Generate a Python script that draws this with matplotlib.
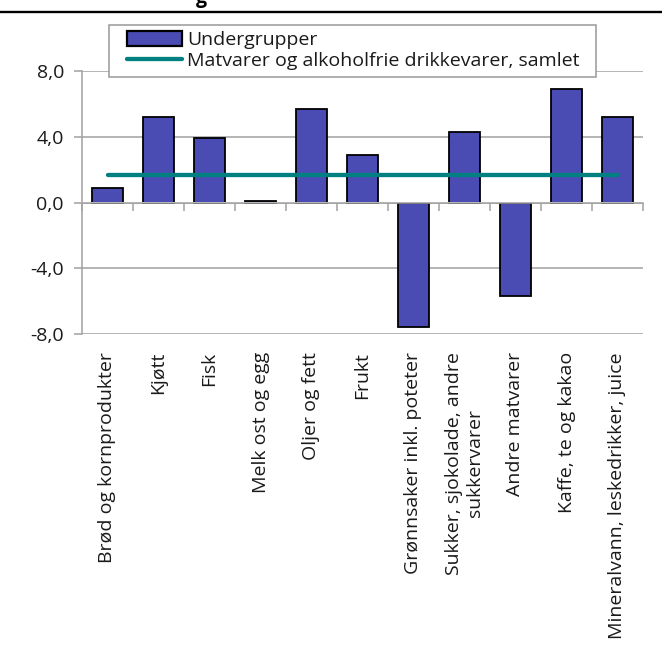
import matplotlib
matplotlib.use("Agg")
import matplotlib.pyplot as plt
from matplotlib.patches import Patch, Rectangle
from matplotlib.lines import Line2D
from matplotlib.ticker import FuncFormatter
import numpy as np

categories = [
    "Brød og kornprodukter",
    "Kjøtt",
    "Fisk",
    "Melk ost og egg",
    "Oljer og fett",
    "Frukt",
    "Grønnsaker inkl. poteter",
    "Sukker, sjokolade, andre\nsukkervarer",
    "Andre matvarer",
    "Kaffe, te og kakao",
    "Mineralvann, leskedrikker, juice",
]
undergrupper = [0.9, 5.2, 3.9, 0.1, 5.7, 2.9, -7.6, 4.3, -5.7, 6.9, 5.2]
samlet = 1.7
yticks = [-8, -4, 0, 4, 8]
legend_labels = ["Undergrupper", "Matvarer og alkoholfrie drikkevarer, samlet"]

BAR = "#4B4BB4"
TEAL = "#008080"
GRID = "#A0A0A0"
TXT = "#1a1a1a"
FS = 14

plt.rcParams['font.family'] = ['Open Sans', 'DejaVu Sans']
plt.rcParams['font.size'] = FS
plt.rcParams['text.color'] = TXT

W, H = 662, 648
fig = plt.figure(figsize=(W / 100, H / 100), dpi=100)
ax = fig.add_axes([82 / W, 1 - 334 / H, (643 - 82) / W, (334 - 71) / H])

x = np.arange(len(categories))
ax.bar(x, undergrupper, width=0.6, color=BAR, edgecolor="black", linewidth=1.3, zorder=2)
ax.plot([x[0], x[-1]], [samlet, samlet], color=TEAL, lw=3.1, solid_capstyle="round", zorder=5)

ax.set_xlim(-0.5, len(categories) - 0.5)
ax.set_ylim(yticks[0], yticks[-1])
ax.set_yticks(yticks)
ax.yaxis.set_major_formatter(FuncFormatter(lambda v, p: f"{v:.1f}".replace(".", ",")))
ax.yaxis.grid(True, color=GRID, lw=1.1)
ax.set_axisbelow(True)
for s in ["top", "right", "bottom"]:
    ax.spines[s].set_visible(False)
ax.spines["left"].set_color(GRID)
ax.spines["left"].set_linewidth(1.1)
ax.tick_params(axis="y", length=6, width=1.1, color=GRID, pad=7, labelsize=FS, labelcolor=TXT)
ax.set_xticks(x)
ax.set_xticklabels(categories, rotation=90, ha="center", va="top", multialignment="center")
ax.tick_params(axis="x", length=0, pad=13, labelsize=FS, labelcolor=TXT)

# zero axis line with boundary ticks
sec = ax.secondary_xaxis(0.5)
sec.set_alignment("bottom")
sec.set_xticks(np.arange(len(categories) + 1) - 0.5)
sec.tick_params(axis="x", length=5.5, width=1.1, color=GRID, labelbottom=False, labeltop=False)
for s in sec.spines.values():
    s.set_color(GRID)
    s.set_linewidth(1.1)
sec.set_zorder(3)

handles = [Patch(facecolor=BAR, edgecolor="black", linewidth=1.6),
           Line2D([0], [0], color=TEAL, lw=3.1, solid_capstyle="round")]
leg = fig.legend(handles, legend_labels, loc="upper left",
                 bbox_to_anchor=(127 / W, 1 - 31 / H), borderpad=0, borderaxespad=0,
                 frameon=False, labelspacing=0.17, handlelength=2.85, handleheight=0.78,
                 handletextpad=0.25, fontsize=FS)
leg.set_zorder(6)

fig.canvas.draw()
bb = leg.get_window_extent()
x0, x1 = bb.x0 - 18, bb.x1 + 16
y0, y1 = bb.y0 - 7, bb.y1 + 6
fig.patches.append(Rectangle((x0 / W, y0 / H), (x1 - x0) / W, (y1 - y0) / H,
                             transform=fig.transFigure, facecolor="white",
                             edgecolor="#999999", lw=1.1, zorder=5))

fig.lines.append(Line2D([0, 1], [1 - 12 / H, 1 - 12 / H], transform=fig.transFigure,
                        color="black", lw=1.7))
fig.text(196 / W, 1 - 3 / H, "g", fontweight="bold", fontsize=FS, va="baseline", ha="left", color="black")

fig.savefig("out.png", dpi=100)
